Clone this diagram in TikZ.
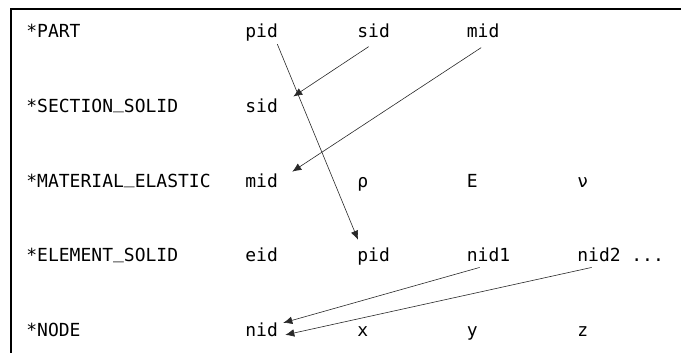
\documentclass[tikz,border=0pt]{standalone}
\usepackage{fontspec}
\setmonofont{DejaVu Sans Mono}
\usetikzlibrary{arrows.meta,calc}
\definecolor{linkgray}{RGB}{40,40,40}
\newcommand{\usc}{\raisebox{0.2em}{\_}}

\begin{document}
\begin{tikzpicture}[x=0.5pt, y=-0.5pt, >={Latex[length=4.5pt,width=3.8pt]},
  font=\ttfamily\fontsize{9}{11}\selectfont,
  field/.style={anchor=base west, inner sep=0pt},
  link/.style={->, linkgray, line width=0.3pt}]
\useasboundingbox (0,0) rectangle (681,353);
\draw[line width=1.1pt] (11,353) -- (11,9) -- (681,9);
% keywords
\node[field] (kwPart) at (26,38) {*PART};
\node[field] (kwSection) at (26,112.6) {*SECTION\usc SOLID};
\node[field] (kwMaterial) at (26,187.2) {*MATERIAL\usc ELASTIC};
\node[field] (kwElement) at (26,261.8) {*ELEMENT\usc SOLID};
\node[field] (kwNode) at (26,336.4) {*NODE};
% card fields
\node[field] (pPid) at (245,38) {pid};
\node[field] (pSid) at (357,38) {sid};
\node[field] (pMid) at (466.5,38) {mid};
\node[field] (sSid) at (245,112.6) {sid};
\node[field] (mMid) at (245,187.2) {mid};
\node[field] (mRho) at (357,187.2) {ρ};
\node[field] (mE) at (466.5,187.2) {E};
\node[field] (mNu) at (577,187.2) {ν};
\node[field] (eEid) at (245,261.8) {eid};
\node[field] (ePid) at (357,261.8) {pid};
\node[field] (eNid1) at (466.5,261.8) {nid1};
\node[field] (eNid2) at (577,261.8) {nid2};
\node[field] (eMore) at (631,261.8) {...};
\node[field] (nNid) at (245,336.4) {nid};
\node[field] (nX) at (357,336.4) {x};
\node[field] (nY) at (466.5,336.4) {y};
\node[field] (nZ) at (577,336.4) {z};
% references
\draw[link] ($(pPid.south east)+(-1,2)$) -- ($(ePid.north west)+(1,-8)$);
\draw[link] ($(pSid.south)+(-5,8)$) -- ($(sSid.north east)+(15,-2)$);
\draw[link] ($(pMid.south)+(-2,9)$) -- ($(mMid.north east)+(14,-1.5)$);
\draw[link] ($(eNid1.south)+(-9,5)$) -- ($(nNid.north east)+(5,0.5)$);
\draw[link] ($(eNid2.south)+(-7.5,5)$) -- ($(nNid.base east)+(7,-1.5)$);
\end{tikzpicture}
\end{document}
